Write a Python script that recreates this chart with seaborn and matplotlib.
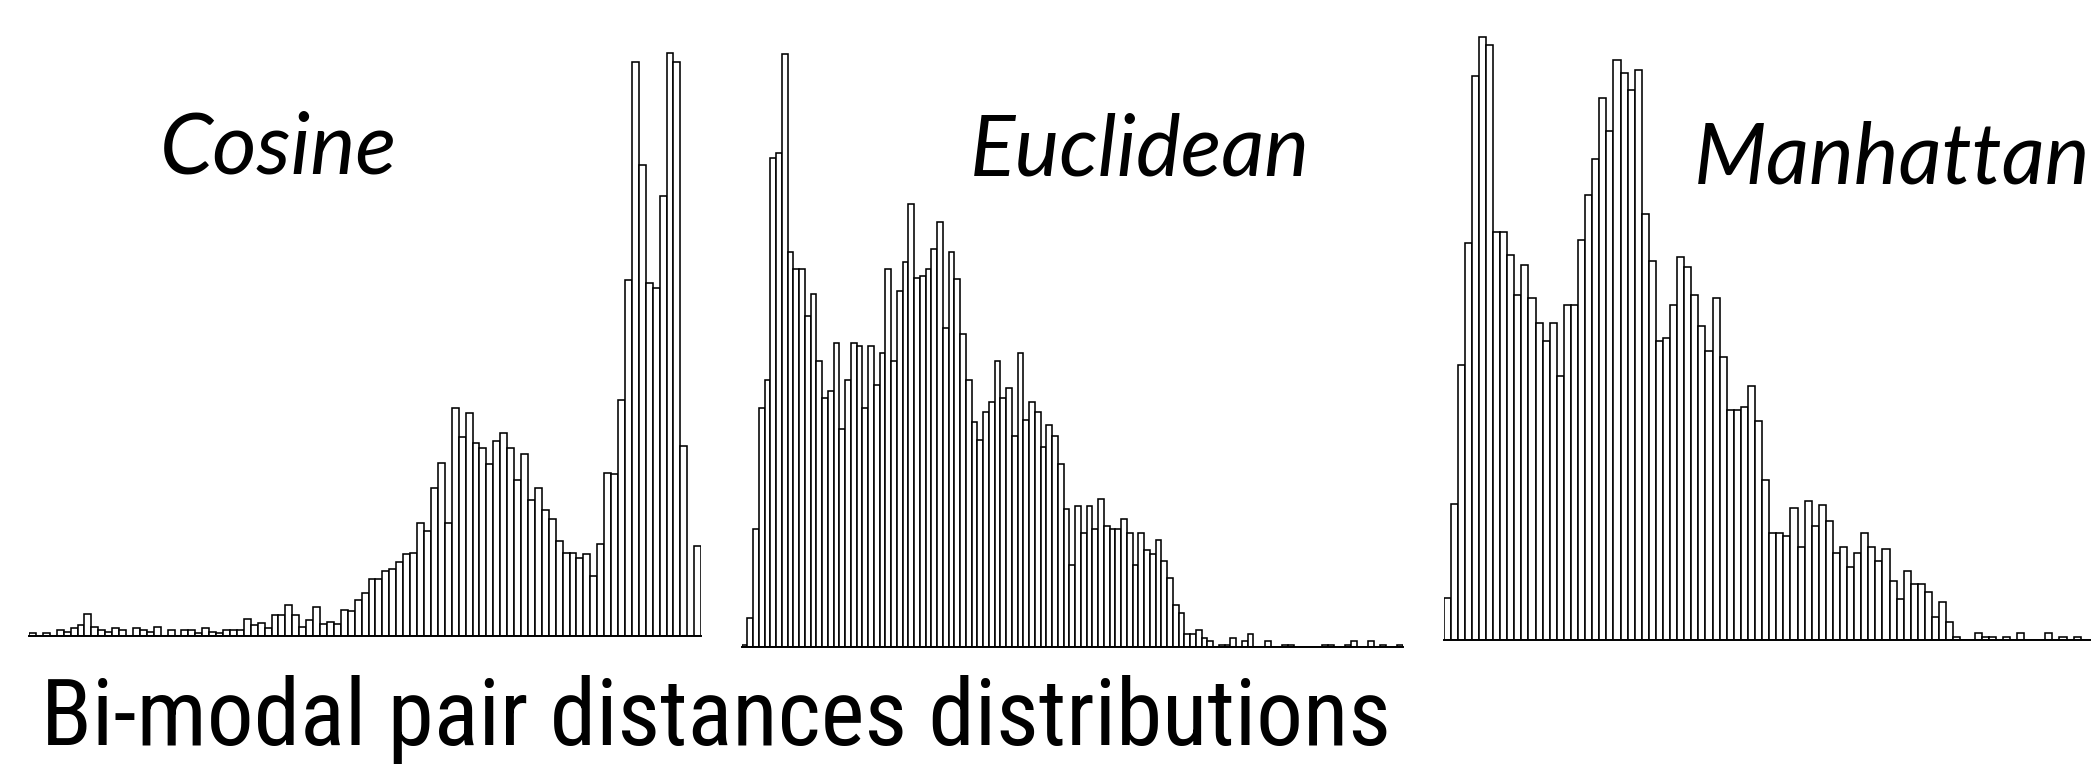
import numpy as np
import pandas as pd
import seaborn as sns
import matplotlib.pyplot as plt
from matplotlib import font_manager as fm

# Histogram bin counts (arbitrary units) for each distance measure
cosine_counts = [
    3, 0, 3, 0, 6, 4, 8, 11, 22, 9, 6, 4, 8, 6, 0, 8, 6, 4, 9, 0,
    6, 0, 6, 6, 3, 8, 4, 3, 6, 6, 6, 17, 11, 13, 8, 21, 21, 31, 21, 9,
    16, 29, 12, 14, 12, 26, 25, 36, 43, 57, 57, 65, 67, 74, 82, 83, 113, 105, 148, 173,
    113, 228, 199, 223, 193, 188, 172, 195, 203, 188, 156, 182, 136, 148, 126, 117, 95, 83, 83, 78,
    82, 60, 92, 163, 162, 236, 356, 574, 471, 353, 348, 440, 583, 574, 190, 0, 90,
]
euclidean_counts = [
    2, 29, 118, 239, 267, 489, 494, 593, 395, 378, 378, 331, 353, 286, 249, 256, 304, 218, 267, 304,
    301, 239, 301, 262, 294, 378, 286, 356, 385, 443, 369, 371, 378, 398, 425, 319, 395, 368, 313, 267,
    225, 207, 235, 245, 286, 249, 259, 211, 294, 227, 245, 235, 200, 222, 211, 183, 138, 82, 141, 114,
    141, 118, 148, 121, 118, 118, 128, 114, 82, 114, 97, 93, 107, 86, 69, 42, 34, 13, 13, 17,
    9, 6, 0, 2, 2, 9, 0, 6, 13, 0, 0, 6, 0, 0, 2, 2, 0, 0, 0, 0,
    0, 2, 2, 0, 0, 2, 6, 0, 0, 6, 0, 2, 0, 0, 2,
]
manhattan_counts = [
    42, 136, 275, 397, 564, 603, 595, 408, 408, 385, 345, 375, 342, 317, 299, 317, 264, 335, 335, 400,
    445, 481, 542, 509, 580, 567, 550, 570, 426, 379, 299, 302, 335, 383, 373, 345, 314, 289, 342, 283,
    230, 230, 233, 254, 219, 160, 107, 107, 104, 132, 93, 139, 114, 135, 119, 87, 93, 73, 87, 107,
    93, 79, 91, 59, 41, 69, 56, 56, 48, 23, 38, 18, 3, 0, 0, 7, 3, 3, 0, 3,
    0, 7, 0, 0, 0, 7, 0, 3, 0, 3, 0, 0,
]

panel_titles = ["Cosine", "Euclidean", "Manhattan"]
caption = "Bi-modal pair distances distributions"

sns.set_style("white")

W, H = 2091, 765
DPI = 100
fig = plt.figure(figsize=(W / DPI, H / DPI), dpi=DPI)
fig.patch.set_facecolor("white")

Y_SPAN = 610  # vertical data span of every panel, in count units


def panel_axes(left_px, right_px, base_px):
    top_px = base_px - Y_SPAN
    return fig.add_axes([left_px / W, 1 - base_px / H,
                         (right_px - left_px) / W, (base_px - top_px) / H])


def draw_hist(ax, counts, n_visible=None):
    n = len(counts)
    df = pd.DataFrame({"bin": np.arange(n) + 0.5, "count": counts})
    sns.histplot(data=df, x="bin", weights="count", bins=n, binrange=(0, n), ax=ax,
                 stat="count", element="bars", fill=True,
                 color="white", edgecolor="black", linewidth=1.15, alpha=1)
    ax.set_xlim(0, n if n_visible is None else n_visible)
    ax.set_ylim(0, Y_SPAN)
    ax.set_xticks([])
    ax.set_yticks([])
    ax.set_xlabel("")
    ax.set_ylabel("")
    ax.set_facecolor("none")
    for side in ("left", "right", "top"):
        ax.spines[side].set_visible(False)
    ax.spines["bottom"].set_color("black")
    ax.spines["bottom"].set_linewidth(1.4)


# Cosine: 97 bins, ~6.93 px each
ax1 = panel_axes(29, 29 + 97 * 6.93, 636)
draw_hist(ax1, cosine_counts)

# Euclidean: 115 bins, ~5.75 px each
ax2 = panel_axes(741.7, 741.7 + 115 * 5.75, 646.5)
draw_hist(ax2, euclidean_counts)

# Manhattan: ~7.08 px per bin, runs off the right edge
m_left, m_bw = 1443.5, 7.08
ax3 = panel_axes(m_left, W, 640)
draw_hist(ax3, manhattan_counts, n_visible=(W - m_left) / m_bw)


def pick_condensed():
    entries = fm.fontManager.ttflist
    names = {f.name for f in entries}
    for fam in ("Liberation Sans Narrow", "Roboto Condensed", "Open Sans Condensed"):
        if fam in names:
            return fam, "normal"
    for f in entries:
        if f.name == "DejaVu Sans" and str(f.stretch) in ("condensed", "semi-condensed"):
            return "DejaVu Sans", "condensed"
    return "Liberation Sans", "normal"


renderer = fig.canvas.get_renderer()


def fitted_text(x_px, base_px, s, target_w, size0=40, **kw):
    t = fig.text(x_px / W, 1 - base_px / H, s, ha="left", va="baseline",
                 fontsize=size0, color="black", **kw)
    for _ in range(3):
        bb = t.get_window_extent(renderer)
        t.set_fontsize(t.get_fontsize() * target_w / bb.width)
    return t


title_font = dict(family="Lato", style="italic")
t_cos = fitted_text(160, 173, panel_titles[0], 237, **title_font)
t_euc = fitted_text(970, 176, panel_titles[1], 340, **title_font)
t_man = fig.text(1694 / W, 1 - 183 / H, panel_titles[2], ha="left", va="baseline",
                 fontsize=t_euc.get_fontsize(), color="black", **title_font)

cap_family, cap_stretch = pick_condensed()
fitted_text(41, 745, caption, 1350, family=cap_family, fontstretch=cap_stretch)

fig.savefig("out.png", dpi=DPI, facecolor="white")
